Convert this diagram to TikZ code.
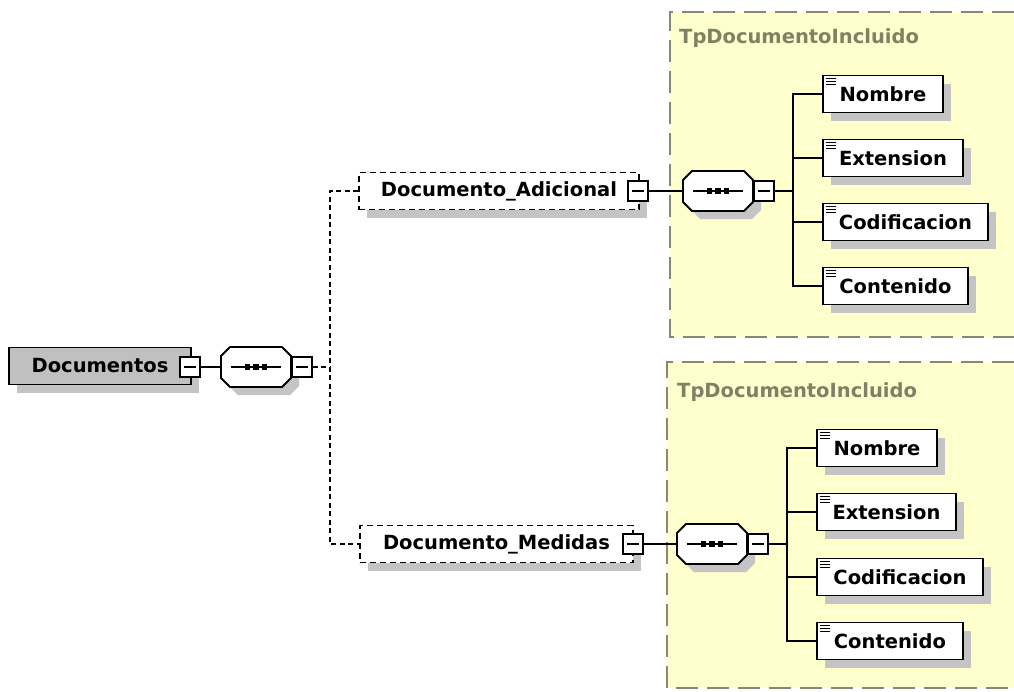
\documentclass[tikz,border=0pt]{standalone}
\usepackage{fontspec}
\setmainfont{DejaVu Sans}
\usetikzlibrary{shadows,calc}
\definecolor{panelfill}{RGB}{255,255,206}
\definecolor{panelline}{RGB}{135,135,115}
\definecolor{titlecol}{RGB}{128,128,100}
\definecolor{shad}{RGB}{196,196,196}
\definecolor{docfill}{RGB}{192,192,192}
\newcommand\elemfont{\fontsize{19.5}{22}\selectfont\bfseries}
\newcommand\seqshape[1]{%
  \begin{scope}[shift={(#1.center)}]
    \fill[shad] (8-26,8-20) -- (8+26,8-20) -- (8+35,8-11) -- (8+35,8+11) -- (8+26,8+20) -- (8-26,8+20) -- (8-35,8+11) -- (8-35,8-11) -- cycle;
    \draw[line width=1.8pt, fill=white] (-26,-20) -- (26,-20) -- (35,-11) -- (35,11) -- (26,20) -- (-26,20) -- (-35,11) -- (-35,-11) -- cycle;
    \draw[line width=1.5pt] (-25,0) -- (25,0);
    \foreach \dx in {-8.5,0,8.5} \fill (\dx-2.8,-2.8) rectangle (\dx+2.8,2.8);
  \end{scope}}
\newcommand\iconlines[1]{%
  \foreach \dy in {4,7,10} \draw[line width=0.9pt] ($(#1.north west)+(3.5,\dy)$) -- ++(10,0);}
\begin{document}
\begin{tikzpicture}[x=1pt,y=-1pt,
  conn/.style={line width=1.7pt},
  dconn/.style={line width=1.7pt, dash pattern=on 5pt off 3.5pt},
  shadowed/.style={drop shadow={shadow xshift=8pt,shadow yshift=-8pt,fill=shad,opacity=1}},
  elem/.style={draw, line width=1.9pt, fill=white, minimum height=37pt, inner sep=0pt, font=\elemfont, shadowed},
  optelem/.style={elem, dash pattern=on 6pt off 4pt},
  rootelem/.style={elem, fill=docfill},
  child/.style={elem, anchor=west},
  minusbox/.style={draw, line width=1.6pt, fill=white, minimum size=20pt, inner sep=0pt,
    path picture={\draw[line width=1.3pt] ([xshift=4pt]path picture bounding box.west) -- ([xshift=-4pt]path picture bounding box.east);}},
  seqnode/.style={minimum width=70pt, minimum height=40pt, inner sep=0pt},
  paneltitle/.style={anchor=base west, text=titlecol, font=\elemfont, inner sep=0pt},
  panelborder/.style={draw=panelline, line width=1.2pt, dash pattern=on 22pt off 9pt},
]
\useasboundingbox (0,0) rectangle (1014,691);
\fill[white] (0,0) rectangle (1014,691);

% panels
\fill[panelfill] (670,12) rectangle (1014,337);
\draw[panelborder] (1014,12) -- (670,12) -- (670,337) -- (1014,337);
\node[paneltitle] (t1) at (679,43) {TpDocumentoIncluido};
\fill[panelfill] (667,362) rectangle (1014,688);
\draw[panelborder] (1014,362) -- (667,362) -- (667,688) -- (1014,688);
\node[paneltitle] (t2) at (677,397) {TpDocumentoIncluido};

% root
\node[rootelem, minimum width=182pt] (docs) at (100,366) {Documentos};
\node[minusbox] (m0) at (190,367) {};
\node[seqnode] (seq1) at (256,367) {};
\seqshape{seq1}
\node[minusbox, anchor=west] (m1) at (seq1.east) {};
\coordinate (j1) at (330,367);

% optional elements
\node[optelem, minimum width=280pt] (ad) at (499,191) {Documento\_Adicional};
\node[minusbox] (mA) at (638,191) {};
\node[optelem, minimum width=273pt] (med) at (496.5,544) {Documento\_Medidas};
\node[minusbox] (mB) at (633,544) {};

% sequence A
\node[seqnode] (seqA) at (718,191) {};
\seqshape{seqA}
\node[minusbox, anchor=west] (mA2) at (seqA.east) {};
\coordinate (jA) at (793,191);

% sequence B
\node[seqnode] (seqB) at (712,544) {};
\seqshape{seqB}
\node[minusbox, anchor=west] (mB2) at (seqB.east) {};
\coordinate (jB) at (787,544);

% children A
\node[child, minimum width=120pt] (a1) at (822,94) {Nombre};
\node[child, minimum width=140pt] (a2) at (822,158) {Extension};
\node[child, minimum width=165pt] (a3) at (822,222) {Codificacion};
\node[child, minimum width=145pt] (a4) at (822,286) {Contenido};
% children B
\node[child, minimum width=120pt] (b1) at (816,448) {Nombre};
\node[child, minimum width=139pt] (b2) at (816,512) {Extension};
\node[child, minimum width=166pt] (b3) at (816,577) {Codificacion};
\node[child, minimum width=146pt] (b4) at (816,641) {Contenido};
\foreach \n in {a1,a2,a3,a4,b1,b2,b3,b4} {\iconlines{\n}}

% connectors
\draw[conn] (m0.east) -- (seq1.west);
\draw[dconn] (m1.east) -- (j1);
\draw[dconn] (ad.west) -| (j1) |- (med.west);
\draw[conn] (mA.east) -- (seqA.west);
\draw[conn] (mB.east) -- (seqB.west);
\draw[conn] (mA2.east) -- (jA);
\draw[conn] (mB2.east) -- (jB);
\foreach \c in {a1,a2,a3,a4} {\draw[conn] (jA) |- (\c.west);}
\foreach \c in {b1,b2,b3,b4} {\draw[conn] (jB) |- (\c.west);}
\end{tikzpicture}
\end{document}
